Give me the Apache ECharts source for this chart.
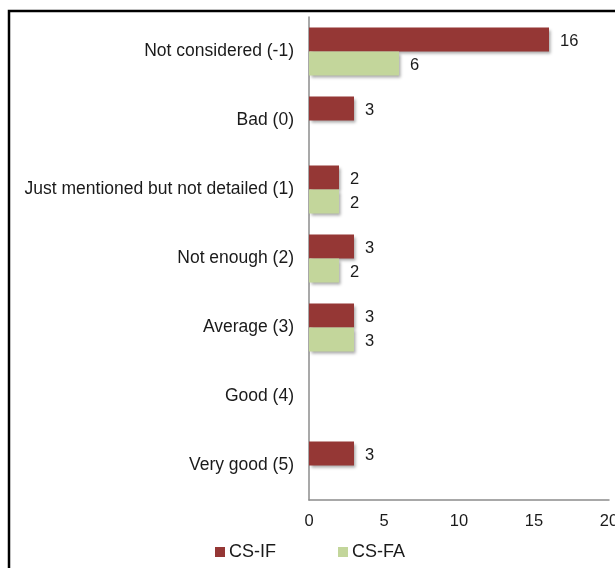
<!DOCTYPE html>
<html>
<head>
<meta charset="utf-8">
<script src="https://cdn.jsdelivr.net/npm/echarts@6/dist/echarts.min.js"></script>
<style>
    html, body { margin: 0; padding: 0; background: #fff; }
    #chart { width: 615px; height: 568px; }
</style>
</head>
<body>
<div id="chart"></div>
<script>
    // categories, top to bottom
    var categories = ['Not considered (-1)', 'Bad (0)', 'Just mentioned but not detailed (1)',
        'Not enough (2)', 'Average (3)', 'Good (4)', 'Very good (5)'];
    var csIF = [16, 3, 2, 3, 3, 0, 3];
    var csFA = [6, 0, 2, 2, 3, 0, 0];
    var xTicks = [0, 5, 10, 15, 20];

    var font = 'Liberation Sans, Arial, sans-serif';
    var myChart = echarts.init(document.getElementById('chart'));

    function valueLabel(p) {
        return p.value === 0 ? '' : p.value;
    }

    var option = {
        animation: false,
        textStyle: { fontFamily: font },
        graphic: [{
            type: 'rect',
            shape: { x: 9, y: 11, width: 630, height: 600 },
            style: { fill: 'none', stroke: '#000', lineWidth: 2.5 },
            silent: true
        }],
        legend: {
            left: 210,
            top: 538,
            itemWidth: 10,
            itemHeight: 10,
            itemGap: 62,
            icon: 'rect',
            textStyle: { fontSize: 18, color: '#1a1a1a', fontFamily: font, padding: [0, 0, 0, -1] },
            data: ['CS-IF', 'CS-FA']
        },
        grid: {
            left: 309,
            right: 6,
            top: 17,
            bottom: 68,
            containLabel: false,
            outerBoundsMode: 'none'
        },
        xAxis: {
            type: 'value',
            min: xTicks[0],
            max: xTicks[xTicks.length - 1],
            interval: 5,
            axisLine: { show: true, lineStyle: { color: '#8c8c8c', width: 1.5 } },
            axisTick: { show: false },
            splitLine: { show: false },
            axisLabel: { fontSize: 16.5, color: '#1a1a1a', margin: 13, fontFamily: font }
        },
        yAxis: {
            type: 'category',
            inverse: true,
            data: categories,
            axisLine: { show: true, lineStyle: { color: '#8c8c8c', width: 1.5 } },
            axisTick: { show: false },
            axisLabel: { fontSize: 17.5, color: '#1a1a1a', margin: 15, fontFamily: font, padding: [5, 0, 0, 0] }
        },
        series: [
            {
                name: 'CS-IF',
                type: 'bar',
                data: csIF,
                barWidth: 24,
                barGap: '0%',
                itemStyle: {
                    color: '#953735',
                    shadowColor: 'rgba(0,0,0,0.35)',
                    shadowBlur: 3,
                    shadowOffsetX: 1.5,
                    shadowOffsetY: 2
                },
                label: {
                    show: true, position: 'right', distance: 11, offset: [0, 2],
                    fontSize: 16.5, color: '#1a1a1a', fontFamily: font,
                    formatter: valueLabel
                }
            },
            {
                name: 'CS-FA',
                type: 'bar',
                data: csFA,
                barWidth: 24,
                barGap: '0%',
                itemStyle: {
                    color: '#c3d69b',
                    shadowColor: 'rgba(0,0,0,0.35)',
                    shadowBlur: 3,
                    shadowOffsetX: 1.5,
                    shadowOffsetY: 2
                },
                label: {
                    show: true, position: 'right', distance: 11, offset: [0, 2],
                    fontSize: 16.5, color: '#1a1a1a', fontFamily: font,
                    formatter: valueLabel
                }
            }
        ]
    };
    myChart.setOption(option);
</script>
</body>
</html>
